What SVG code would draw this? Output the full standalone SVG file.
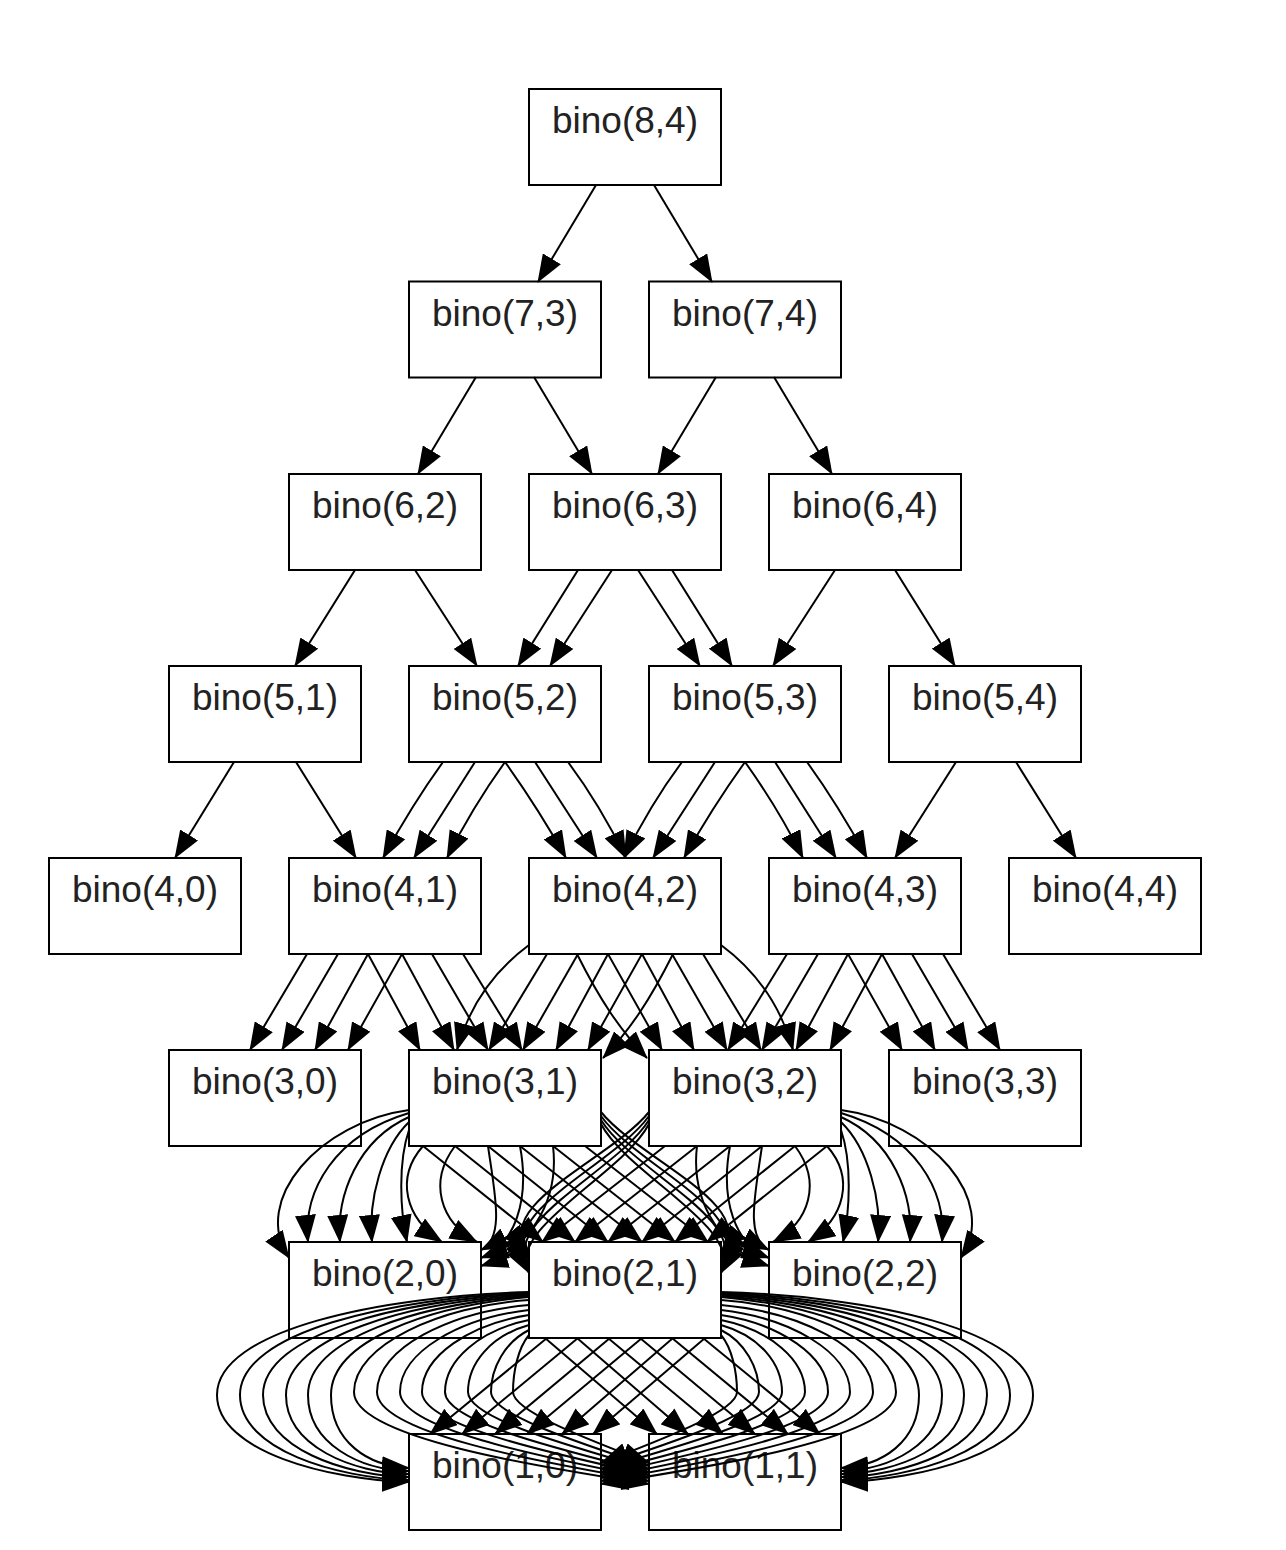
<svg xmlns="http://www.w3.org/2000/svg" width="1286" height="1550" viewBox="0 0 1286 1550">
<defs>
<style>
.n rect{fill:#fff;stroke:#000;stroke-width:2}
.n text{font-family:"Liberation Sans",Arial,sans-serif;font-size:37px;fill:#222;text-anchor:middle}
.e path{fill:none;stroke:#000;stroke-width:2;marker-end:url(#ah)}
</style>
<marker id="ah" viewBox="0 0 28 21" refX="27" refY="10.5" markerWidth="28" markerHeight="21" markerUnits="userSpaceOnUse" orient="auto"><path d="M0,0 L28,10.5 L0,21 z" fill="#000"/></marker>
</defs>
<rect x="0" y="0" width="1286" height="1550" fill="#fff"/>
<g id="n84" class="n"><rect x="529" y="89" width="192" height="96"/><text x="625" y="133">bino(8,4)</text></g>
<g id="n73" class="n"><rect x="409" y="281.5" width="192" height="96"/><text x="505" y="325.5">bino(7,3)</text></g>
<g id="n74" class="n"><rect x="649" y="281.5" width="192" height="96"/><text x="745" y="325.5">bino(7,4)</text></g>
<g id="n62" class="n"><rect x="289" y="474" width="192" height="96"/><text x="385" y="518">bino(6,2)</text></g>
<g id="n63" class="n"><rect x="529" y="474" width="192" height="96"/><text x="625" y="518">bino(6,3)</text></g>
<g id="n64" class="n"><rect x="769" y="474" width="192" height="96"/><text x="865" y="518">bino(6,4)</text></g>
<g id="n51" class="n"><rect x="169" y="666" width="192" height="96"/><text x="265" y="710">bino(5,1)</text></g>
<g id="n52" class="n"><rect x="409" y="666" width="192" height="96"/><text x="505" y="710">bino(5,2)</text></g>
<g id="n53" class="n"><rect x="649" y="666" width="192" height="96"/><text x="745" y="710">bino(5,3)</text></g>
<g id="n54" class="n"><rect x="889" y="666" width="192" height="96"/><text x="985" y="710">bino(5,4)</text></g>
<g id="n40" class="n"><rect x="49" y="858" width="192" height="96"/><text x="145" y="902">bino(4,0)</text></g>
<g id="n41" class="n"><rect x="289" y="858" width="192" height="96"/><text x="385" y="902">bino(4,1)</text></g>
<g id="n42" class="n"><rect x="529" y="858" width="192" height="96"/><text x="625" y="902">bino(4,2)</text></g>
<g id="n43" class="n"><rect x="769" y="858" width="192" height="96"/><text x="865" y="902">bino(4,3)</text></g>
<g id="n44" class="n"><rect x="1009" y="858" width="192" height="96"/><text x="1105" y="902">bino(4,4)</text></g>
<g id="n30" class="n"><rect x="169" y="1050" width="192" height="96"/><text x="265" y="1094">bino(3,0)</text></g>
<g id="n31" class="n"><rect x="409" y="1050" width="192" height="96"/><text x="505" y="1094">bino(3,1)</text></g>
<g id="n32" class="n"><rect x="649" y="1050" width="192" height="96"/><text x="745" y="1094">bino(3,2)</text></g>
<g id="n33" class="n"><rect x="889" y="1050" width="192" height="96"/><text x="985" y="1094">bino(3,3)</text></g>
<g id="n20" class="n"><rect x="289" y="1242" width="192" height="96"/><text x="385" y="1286">bino(2,0)</text></g>
<g id="n21" class="n"><rect x="529" y="1242" width="192" height="96"/><text x="625" y="1286">bino(2,1)</text></g>
<g id="n22" class="n"><rect x="769" y="1242" width="192" height="96"/><text x="865" y="1286">bino(2,2)</text></g>
<g id="n10" class="n"><rect x="409" y="1434" width="192" height="96"/><text x="505" y="1478">bino(1,0)</text></g>
<g id="n11" class="n"><rect x="649" y="1434" width="192" height="96"/><text x="745" y="1478">bino(1,1)</text></g>
<g id="edges" class="e">
<path d="M596,185 L538,282"/>
<path d="M654,185 L712,282"/>
<path d="M476,377 L418,474"/>
<path d="M534,377 L592,474"/>
<path d="M716,377 L658,474"/>
<path d="M774,377 L832,474"/>
<path d="M355,570 L295,666"/>
<path d="M415,570 L477,666"/>
<path d="M578,570 L518,666"/>
<path d="M612,570 L550,666"/>
<path d="M638,570 L700,666"/>
<path d="M672,570 L732,666"/>
<path d="M835,570 L773,666"/>
<path d="M895,570 L955,666"/>
<path d="M234,762 L175,858"/>
<path d="M296,762 L356,858"/>
<path d="M443,762 Q412,805 383,858"/>
<path d="M475,762 L414,858"/>
<path d="M505,762 Q472,808 447,858"/>
<path d="M505,762 Q538,808 566,858"/>
<path d="M535,762 L597,858"/>
<path d="M568,762 Q600,805 626,858"/>
<path d="M682,762 Q650,805 624,858"/>
<path d="M715,762 L653,858"/>
<path d="M745,762 Q712,808 684,858"/>
<path d="M745,762 Q778,808 803,858"/>
<path d="M775,762 L836,858"/>
<path d="M807,762 Q838,805 867,858"/>
<path d="M956,762 L895,858"/>
<path d="M1016,762 L1076,858"/>
<path d="M307,954 L250,1050"/>
<path d="M338,954 L282,1050"/>
<path d="M368,954 L315,1050"/>
<path d="M402,954 L348,1050"/>
<path d="M368,954 L420,1050"/>
<path d="M402,954 L454,1050"/>
<path d="M432,954 L488,1050"/>
<path d="M463,954 L522,1050"/>
<path d="M529,945 Q475,985 457,1050"/>
<path d="M547,954 L489,1050"/>
<path d="M578,954 L523,1050"/>
<path d="M608,954 L556,1050"/>
<path d="M642,954 L588,1050"/>
<path d="M673,954 C650,1000 630,1030 603,1058"/>
<path d="M721,945 Q775,985 793,1050"/>
<path d="M703,954 L761,1050"/>
<path d="M672,954 L727,1050"/>
<path d="M642,954 L694,1050"/>
<path d="M608,954 L662,1050"/>
<path d="M577,954 C600,1000 620,1030 647,1058"/>
<path d="M882,954 L830,1050"/>
<path d="M848,954 L796,1050"/>
<path d="M818,954 L762,1050"/>
<path d="M787,954 L728,1050"/>
<path d="M943,954 L1000,1050"/>
<path d="M912,954 L968,1050"/>
<path d="M882,954 L935,1050"/>
<path d="M848,954 L902,1050"/>
<path d="M409,1110 C320,1122 250,1200 289,1258"/>
<path d="M409,1113 C335,1135 303,1190 308,1242"/>
<path d="M409,1117 C358,1140 336,1195 340,1242"/>
<path d="M409,1122 C382,1148 368,1200 372,1242"/>
<path d="M409,1130 C398,1162 400,1210 407,1242"/>
<path d="M423,1146 C395,1178 405,1218 442,1242"/>
<path d="M455,1146 C428,1182 440,1222 477,1242"/>
<path d="M488,1146 C495,1195 505,1238 481,1250"/>
<path d="M520,1146 C530,1200 515,1245 481,1258"/>
<path d="M553,1146 C560,1205 525,1252 481,1266"/>
<path d="M423,1146 L543,1242"/>
<path d="M455,1146 L575,1242"/>
<path d="M488,1146 L608,1242"/>
<path d="M520,1146 L642,1242"/>
<path d="M553,1146 L675,1242"/>
<path d="M585,1146 L708,1242"/>
<path d="M601,1112 C640,1160 760,1205 721,1252"/>
<path d="M601,1116 C636,1165 755,1213 721,1259"/>
<path d="M601,1120 C632,1170 750,1221 721,1266"/>
<path d="M601,1124 C628,1175 745,1229 721,1273"/>
<path d="M841,1110 C930,1122 1000,1200 961,1258"/>
<path d="M841,1113 C915,1135 947,1190 942,1242"/>
<path d="M841,1117 C892,1140 914,1195 910,1242"/>
<path d="M841,1122 C868,1148 882,1200 878,1242"/>
<path d="M841,1130 C852,1162 850,1210 843,1242"/>
<path d="M827,1146 C855,1178 845,1218 808,1242"/>
<path d="M795,1146 C822,1182 810,1222 773,1242"/>
<path d="M762,1146 C755,1195 745,1238 769,1250"/>
<path d="M730,1146 C720,1200 735,1245 769,1258"/>
<path d="M697,1146 C690,1205 725,1252 769,1266"/>
<path d="M827,1146 L707,1242"/>
<path d="M795,1146 L675,1242"/>
<path d="M762,1146 L642,1242"/>
<path d="M730,1146 L608,1242"/>
<path d="M697,1146 L575,1242"/>
<path d="M665,1146 L542,1242"/>
<path d="M649,1112 C610,1160 490,1205 529,1252"/>
<path d="M649,1116 C614,1165 495,1213 529,1259"/>
<path d="M649,1120 C618,1170 500,1221 529,1266"/>
<path d="M649,1124 C622,1175 505,1229 529,1273"/>
<path d="M547,1338 L430,1434"/>
<path d="M578,1338 L462,1434"/>
<path d="M610,1338 L495,1434"/>
<path d="M642,1338 L527,1434"/>
<path d="M673,1338 L562,1434"/>
<path d="M705,1338 L593,1434"/>
<path d="M703,1338 L820,1434"/>
<path d="M672,1338 L788,1434"/>
<path d="M640,1338 L755,1434"/>
<path d="M608,1338 L723,1434"/>
<path d="M577,1338 L688,1434"/>
<path d="M545,1338 L657,1434"/>
<path d="M529,1292 C380,1296 217,1330 217,1395 C217,1452 330,1480 409,1482"/>
<path d="M529,1293 C390,1298 240,1332 240,1395 C240,1450 337,1478 409,1480"/>
<path d="M529,1294 C400,1300 263,1334 263,1395 C263,1448 345,1476 409,1477"/>
<path d="M529,1295 C410,1302 286,1336 286,1395 C286,1446 352,1473 409,1474"/>
<path d="M529,1296 C420,1304 308,1338 308,1395 C308,1444 360,1470 409,1471"/>
<path d="M529,1297 C430,1306 331,1340 331,1395 C331,1442 368,1466 409,1468"/>
<path d="M721,1292 C870,1296 1033,1330 1033,1395 C1033,1452 920,1480 841,1482"/>
<path d="M721,1293 C860,1298 1010,1332 1010,1395 C1010,1450 913,1478 841,1480"/>
<path d="M721,1294 C850,1300 987,1334 987,1395 C987,1448 905,1476 841,1477"/>
<path d="M721,1295 C840,1302 964,1336 964,1395 C964,1446 898,1473 841,1474"/>
<path d="M721,1296 C830,1304 942,1338 942,1395 C942,1444 890,1470 841,1471"/>
<path d="M721,1297 C820,1306 919,1340 919,1395 C919,1442 882,1466 841,1468"/>
<path d="M529,1300 C440,1306 354,1345 354,1392 C354,1440 560,1470 649,1484"/>
<path d="M529,1305 C450,1312 377,1348 377,1392 C377,1436 565,1466 649,1481"/>
<path d="M529,1310 C460,1318 400,1352 400,1392 C400,1432 570,1462 649,1478"/>
<path d="M529,1315 C470,1324 422,1356 422,1392 C422,1428 575,1458 649,1475"/>
<path d="M529,1320 C480,1330 445,1360 445,1392 C445,1424 580,1454 649,1472"/>
<path d="M529,1325 C490,1336 468,1364 468,1392 C468,1420 585,1450 649,1469"/>
<path d="M529,1330 C505,1342 491,1368 491,1392 C491,1416 590,1446 649,1466"/>
<path d="M529,1335 C518,1348 513,1372 513,1392 C513,1412 595,1442 649,1463"/>
<path d="M721,1300 C810,1306 896,1345 896,1392 C896,1440 690,1470 601,1484"/>
<path d="M721,1305 C800,1312 873,1348 873,1392 C873,1436 685,1466 601,1481"/>
<path d="M721,1310 C790,1318 850,1352 850,1392 C850,1432 680,1462 601,1478"/>
<path d="M721,1315 C780,1324 828,1356 828,1392 C828,1428 675,1458 601,1475"/>
<path d="M721,1320 C770,1330 805,1360 805,1392 C805,1424 670,1454 601,1472"/>
<path d="M721,1325 C760,1336 782,1364 782,1392 C782,1420 665,1450 601,1469"/>
<path d="M721,1330 C745,1342 759,1368 759,1392 C759,1416 660,1446 601,1466"/>
<path d="M721,1335 C732,1348 737,1372 737,1392 C737,1412 655,1442 601,1463"/>
</g>
</svg>
